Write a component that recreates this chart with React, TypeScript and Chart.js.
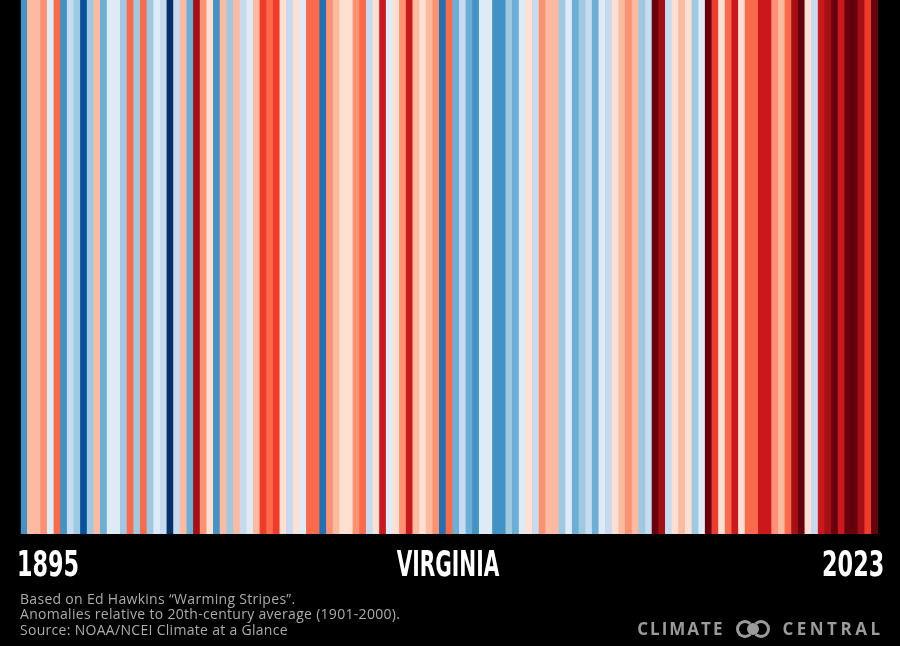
import React, { useEffect, useRef } from "react";
import { Chart, registerables } from "chart.js";

Chart.register(...registerables);

const startYear = 1895;
const endYear = 2023;
const years: string[] = [];
for (let y = startYear; y <= endYear; y++) years.push(String(y));

// Estimated annual temperature anomalies (°F) vs. 1901-2000 average, read from the stripes
const anomalies: number[] = [
  -1.4, 0.4, 0.4, 0.7, -0.1, 1.0, -1.4, -0.4, -0.7, -2.2,
  -0.7, 0.4, -1.0, -0.1, -0.1, -0.7, 1.0, -0.7, 1.0, -0.7,
  -0.1, -0.4, -2.6, -0.4, 0.4, -1.0, 2.2, 0.7, 0.1, -1.4,
  0.4, -0.7, 0.4, -0.4, -0.1, 0.4, 1.4, 1.0, 1.4, 0.1,
  -0.4, 0.1, -0.1, 1.0, 1.0, -1.8, 0.7, 0.4, 0.1, 0.1,
  0.7, 1.0, -0.4, 0.1, 1.8, -0.1, 0.1, 0.7, 1.8, 0.4,
  0.1, 0.4, 0.7, -1.8, 1.0, -1.0, -0.4, -1.0, -1.4, -0.1,
  -0.1, -1.4, -1.4, -0.7, -1.0, -0.1, 0.1, -0.4, 0.7, 0.4,
  0.4, -0.7, -0.1, -1.0, -0.7, -0.4, -1.0, -0.1, -0.4, 0.1,
  0.4, 0.7, 0.4, -0.7, -0.4, 2.6, 2.2, -0.4, 0.1, 0.4,
  0.1, -0.7, -0.1, 2.6, 1.4, 0.1, 1.0, 1.8, 0.1, 1.0,
  1.0, 1.8, 1.8, 0.7, 0.4, 1.0, 2.2, 2.6, 0.1, -0.4,
  1.8, 2.2, 2.6, 1.8, 2.6, 2.6, 2.2, 1.4, 2.6,
];

const palette: string[] = [
  "#08306b", "#08519c", "#2171b5", "#4292c6", "#6baed6", "#9ecae1", "#c6dbef", "#deebf7",
  "#fee0d2", "#fcbba1", "#fc9272", "#fb6a4a", "#ef3b2c", "#cb181d", "#a50f15", "#67000d",
];
const binEdges: number[] = [-2.4, -2.0, -1.6, -1.2, -0.85, -0.55, -0.25, 0, 0.25, 0.55, 0.85, 1.2, 1.6, 2.0, 2.4];

function stripeColor(v: number): string {
  let i = 0;
  while (i < binEdges.length && v > binEdges[i]) i++;
  return palette[i];
}

export default function App() {
  const ref = useRef<HTMLCanvasElement | null>(null);
  useEffect(() => {
    document.body.style.margin = "0";
    document.body.style.background = "#000";
    const ctx = ref.current;
    if (!ctx) return;
    const chart = new Chart(ctx, {
      type: "bar",
      data: {
        labels: years,
        datasets: [
          {
            data: anomalies.map(() => 1),
            backgroundColor: anomalies.map(stripeColor),
            borderWidth: 0,
            barPercentage: 1,
            categoryPercentage: 1,
          },
        ],
      },
      options: {
        responsive: false,
        animation: false,
        layout: { padding: { left: 20.7, right: 22, top: 0, bottom: 112 } },
        plugins: { legend: { display: false }, tooltip: { enabled: false }, title: { display: false } },
        scales: {
          x: { display: false },
          y: { display: false, min: 0, max: 1 },
        },
      },
    });
    return () => chart.destroy();
  }, []);

  const bigFont: React.CSSProperties = {
    position: "absolute",
    top: 544,
    color: "#fff",
    fontFamily: "'DejaVu Sans', sans-serif",
    fontWeight: 700,
    fontSize: 36,
    lineHeight: "40px",
    whiteSpace: "nowrap",
  };
  const gray = "#9b9b9b";
  return (
    <div style={{ position: "relative", width: 900, height: 646, background: "#000", overflow: "hidden" }}>
      <canvas ref={ref} width={900} height={646} style={{ position: "absolute", left: 0, top: 0 }} />
      <div style={{ ...bigFont, left: 17, transform: "scaleX(0.62)", transformOrigin: "left top" }}>
        {years[0]}
      </div>
      <div style={{ ...bigFont, left: 248, width: 400, textAlign: "center", transform: "scaleX(0.56)", transformOrigin: "center top" }}>
        VIRGINIA
      </div>
      <div style={{ ...bigFont, right: 16, transform: "scaleX(0.62)", transformOrigin: "right top" }}>
        {years[years.length - 1]}
      </div>
      <div style={{ position: "absolute", left: 20, top: 591, color: "#ababab", fontFamily: "'Open Sans', 'Noto Sans', sans-serif", fontSize: 14, letterSpacing: 0.3, lineHeight: "15.3px", whiteSpace: "nowrap" }}>
        <div>Based on Ed Hawkins “Warming Stripes”.</div>
        <div>Anomalies relative to 20th-century average (1901-2000).</div>
        <div>Source: NOAA/NCEI Climate at a Glance</div>
      </div>
      <div style={{ position: "absolute", right: 16.5, top: 620, height: 18, display: "flex", alignItems: "center", color: gray, fontFamily: "'Open Sans', 'Noto Sans', sans-serif", fontWeight: 700, fontSize: 17, lineHeight: "18px", whiteSpace: "nowrap" }}>
        <span style={{ letterSpacing: 2 }}>CLIMATE</span>
        <span style={{ position: "relative", display: "inline-block", width: 34, height: 18, margin: "0 12px 0 12px" }}>
          <span style={{ position: "absolute", left: 0, top: 0, width: 12, height: 12, border: `3px solid ${gray}`, borderRightColor: "transparent", borderRadius: "50%" }} />
          <span style={{ position: "absolute", left: 11, top: 3, width: 12, height: 12, background: gray, borderRadius: "50%" }} />
          <span style={{ position: "absolute", left: 16, top: 0, width: 12, height: 12, border: `3px solid ${gray}`, borderLeftColor: "transparent", borderRadius: "50%" }} />
        </span>
        <span style={{ letterSpacing: 3.5 }}>CENTRAL</span>
      </div>
    </div>
  );
}
